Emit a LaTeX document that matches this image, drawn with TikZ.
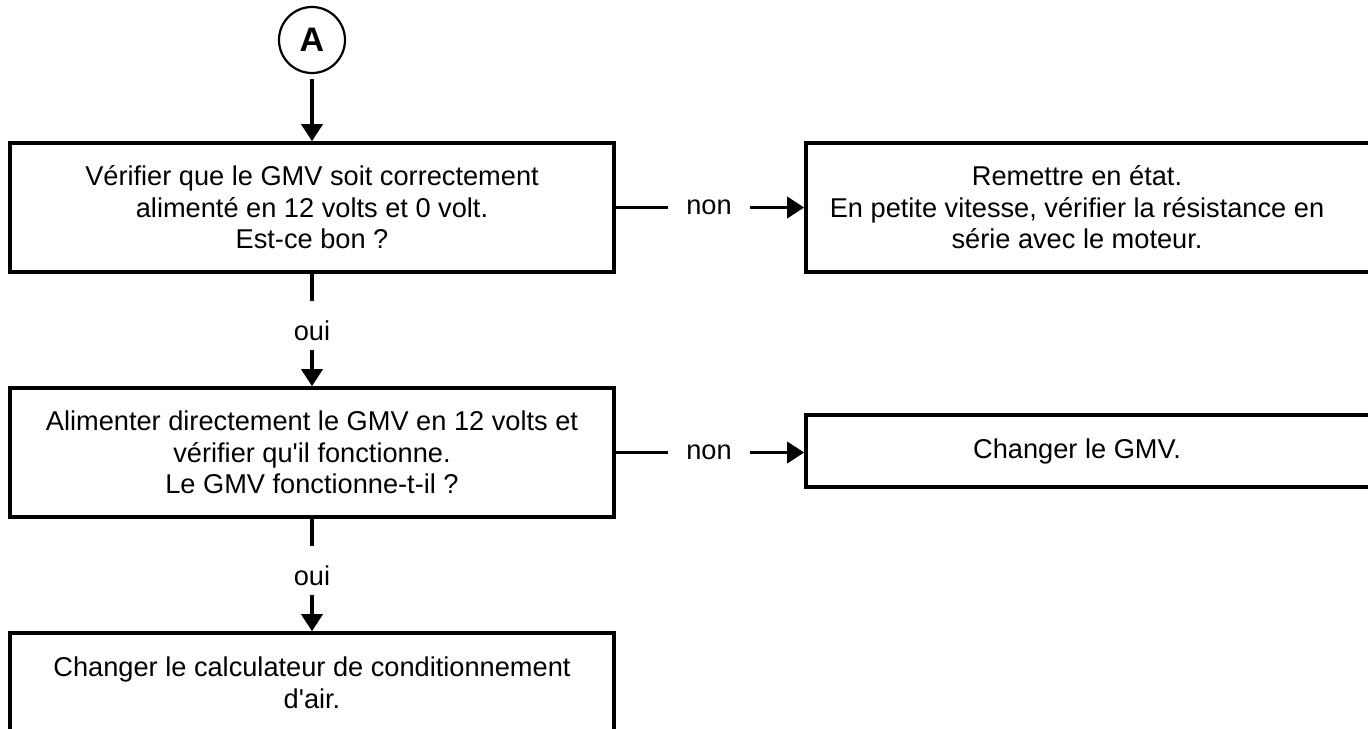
\documentclass[tikz,border=0pt]{standalone}
\usepackage{fontspec}
\setmainfont{Liberation Sans}
\usepackage{tikz}
\usetikzlibrary{positioning,calc,arrows.meta}

\begin{document}
\begin{tikzpicture}[
          x=0.5pt,y=-0.5pt,
          line width=1.8pt,
          >={Triangle[length=8.5pt,width=10.5pt]},
          font=\fontsize{13.6}{15.75}\selectfont,
          box/.style={draw,align=center,inner sep=0pt,minimum height=64.5pt},
          lbox/.style={box,minimum width=302pt},
          rbox/.style={box,minimum width=285pt},
          rtext/.style={align=center,inner sep=0pt},
          startnode/.style={circle,draw,line width=1.1pt,inner sep=0pt,minimum size=33pt,
                            font=\fontsize{17}{17}\selectfont\bfseries},
          ouinode/.style={inner sep=0pt,minimum height=22.5pt,text height=18.5pt,text depth=4pt},
          nonnode/.style={inner sep=0pt,minimum width=39pt}
          ]
          \clip (0,0) rectangle (1368,728);
          % the start point
          \node[startnode] (A) at (312,40) {A};
          % the boxes on the left
          \node[lbox] (b1) at (312,207.5) {V\'erifier que le GMV soit correctement\\aliment\'e en 12 volts et 0 volt.\\Est-ce bon ?};
          \node[lbox] (b3) at (312,452.5) {Alimenter directement le GMV en 12 volts et\\v\'erifier qu\textquotesingle il fonctionne.\\Le GMV fonctionne-t-il ?};
          \node[lbox,minimum height=50pt] (b5) at (312,683) {Changer le calculateur de conditionnement\\d\textquotesingle air.};
          % the boxes on the right
          \node[rbox] (b2) at (1091,207.5) {};
          \node[rtext] (t2) at ([xshift=-7pt]b2.center) {Remettre en \'etat.\\En petite vitesse, v\'erifier la r\'esistance en\\s\'erie avec le moteur.};
          \node[rbox,minimum height=36pt] (b4) at (1091,451) {};
          \node[rtext] (t4) at ([xshift=-7pt]b4.center) {Changer le GMV.};
          % the answers
          \node[ouinode] (o1) at (312,325.5) {oui};
          \node[ouinode] (o2) at (312,570.5) {oui};
          \node[nonnode] (n1) at (709,207.5) {non};
          \node[nonnode] (n2) at (709,452.5) {non};
          % the edges
          \draw[->,shorten <=2.5pt] (A) -- (b1);
          \draw (b1) -- (o1);
          \draw[->] (o1) -- (b3);
          \draw (b3) -- (o2);
          \draw[->] (o2) -- (b5);
          \draw (b1) -- (n1);
          \draw[->] (n1) -- (n1 -| b2.west);
          \draw (b3) -- (n2);
          \draw[->] (n2) -- (n2 -| b4.west);
\end{tikzpicture}
\end{document}
